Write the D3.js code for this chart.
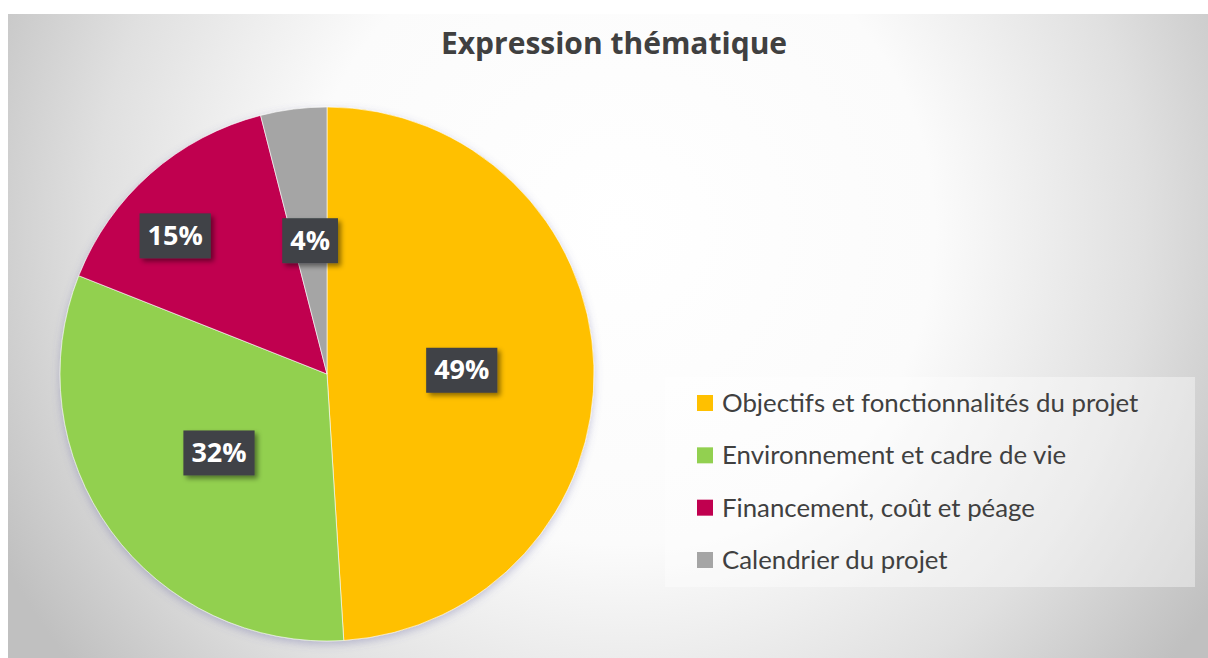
<!DOCTYPE html>
<html>
<head>
<meta charset="utf-8">
<script src="https://cdnjs.cloudflare.com/ajax/libs/d3/7.8.5/d3.min.js"></script>
<style>
  body { margin: 0; background: #ffffff; }
  svg { display: block; }
</style>
</head>
<body>
<div id="chart"></div>
<script>
// data
const categories = [
  "Objectifs et fonctionnalités du projet",
  "Environnement et cadre de vie",
  "Financement, coût et péage",
  "Calendrier du projet"
];
const values = [49, 32, 15, 4];
const colors = ["#FFC000", "#92D050", "#C0004F", "#A5A5A5"];

// where each label sits (fraction of radius, angle nudge in degrees)
const labelRadius = [0.505, 0.5, 0.77, 0.505];
const labelNudge = [0, 0, -6.2, 0];

const width = 1208;
const height = 658;

const svg = d3.select("#chart")
  .append("svg")
  .attr("width", width)
  .attr("height", height);

const defs = svg.append("defs");

/* background gradient */
const bg = defs.append("radialGradient")
  .attr("id", "bg")
  .attr("gradientUnits", "userSpaceOnUse")
  .attr("cx", 620).attr("cy", 230).attr("r", 700);
bg.append("stop").attr("offset", "0").attr("stop-color", "#ffffff");
bg.append("stop").attr("offset", "0.45").attr("stop-color", "#fbfbfb");
bg.append("stop").attr("offset", "0.75").attr("stop-color", "#e0e0e0");
bg.append("stop").attr("offset", "1").attr("stop-color", "#c0c0c0");

// soft shadows
const pieShadow = defs.append("filter").attr("id", "pieShadow")
  .attr("x", "-10%").attr("y", "-10%").attr("width", "120%").attr("height", "120%");
pieShadow.append("feDropShadow")
  .attr("dx", 0).attr("dy", 3).attr("stdDeviation", 4)
  .attr("flood-color", "#6060a0").attr("flood-opacity", 0.35);

const boxShadow = defs.append("filter").attr("id", "boxShadow")
  .attr("x", "-20%").attr("y", "-20%").attr("width", "150%").attr("height", "150%");
boxShadow.append("feDropShadow")
  .attr("dx", 3).attr("dy", 3).attr("stdDeviation", 2.5)
  .attr("flood-color", "#000000").attr("flood-opacity", 0.45);

svg.append("rect")
  .attr("x", 8).attr("y", 14)
  .attr("width", width - 8).attr("height", height - 14)
  .attr("fill", "url(#bg)");

/* title */
svg.append("text")
  .attr("x", 614).attr("y", 54)
  .attr("text-anchor", "middle")
  .attr("font-family", "'Open Sans', sans-serif")
  .attr("font-weight", "bold")
  .attr("font-size", 30)
  .attr("fill", "#404040")
  .text("Expression thématique");

/* pie */
const cx = 327, cy = 374, radius = 267;

const pie = d3.pie().sort(null).value(function(d) { return d; });
const arcs = pie(values);
const arc = d3.arc().innerRadius(0).outerRadius(radius);

const g = svg.append("g").attr("transform", "translate(" + cx + "," + cy + ")");

g.append("g")
  .attr("filter", "url(#pieShadow)")
  .selectAll("path")
  .data(arcs)
  .enter()
  .append("path")
    .attr("d", arc)
    .attr("fill", function(d, i) { return colors[i]; })
    .attr("stroke", "#ffffff")
    .attr("stroke-opacity", 0.6)
    .attr("stroke-width", 1);

/* percentage labels in dark boxes */
const labels = g.selectAll("g.label")
  .data(arcs)
  .enter()
  .append("g")
    .attr("class", "label")
    .attr("transform", function(d, i) {
      const a = (d.startAngle + d.endAngle) / 2 + labelNudge[i] * Math.PI / 180;
      const r = labelRadius[i] * radius;
      return "translate(" + (r * Math.sin(a)) + "," + (-r * Math.cos(a)) + ")";
    });

labels.append("rect").attr("class", "box");

labels.append("text")
  .attr("text-anchor", "middle")
  .attr("dy", "0.35em")
  .attr("font-family", "'Open Sans', sans-serif")
  .attr("font-weight", "bold")
  .attr("font-size", 27)
  .attr("fill", "#ffffff")
  .text(function(d) { return d.data + "%"; });

labels.each(function() {
  const t = d3.select(this).select("text").node().getComputedTextLength();
  d3.select(this).select("rect")
    .attr("x", -(t / 2 + 8))
    .attr("y", -22)
    .attr("width", t + 16)
    .attr("height", 45)
    .attr("fill", "#3f4246")
    .attr("filter", "url(#boxShadow)");
});

/* legend */
svg.append("rect")
  .attr("x", 665).attr("y", 377)
  .attr("width", 530).attr("height", 210)
  .attr("fill", "#ffffff")
  .attr("fill-opacity", 0.4);

const legendY = d3.scalePoint()
  .domain(categories)
  .range([403, 560]);

const legend = svg.selectAll("g.legend")
  .data(categories)
  .enter()
  .append("g")
    .attr("class", "legend")
    .attr("transform", function(d) { return "translate(697," + legendY(d) + ")"; });

legend.append("rect")
  .attr("x", 0).attr("y", -8)
  .attr("width", 16).attr("height", 16)
  .attr("fill", function(d, i) { return colors[i]; });

legend.append("text")
  .attr("x", 25)
  .attr("y", 9)
  .attr("font-family", "Lato, sans-serif")
  .attr("font-size", 25.8)
  .attr("fill", "#404040")
  .text(function(d) { return d; });
</script>
</body>
</html>
